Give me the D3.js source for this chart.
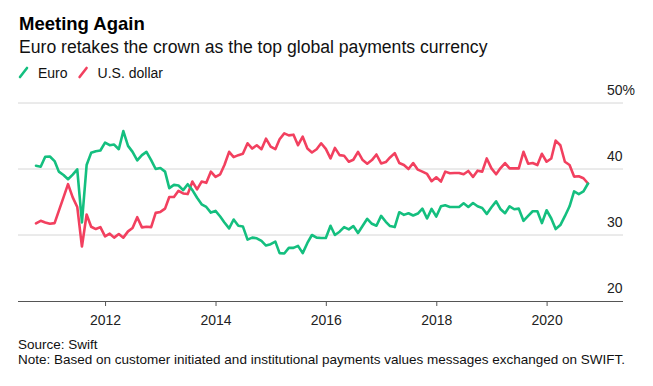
<!DOCTYPE html>
<html>
<head>
<meta charset="utf-8">
<script src="https://cdn.jsdelivr.net/npm/d3@7"></script>
<style>
  html, body { margin: 0; padding: 0; background: #fff; }
  svg { display: block; font-family: "Liberation Sans", Arial, Helvetica, sans-serif; }
</style>
</head>
<body>
<svg id="chart" width="653" height="386"></svg>
<script>
// ---- Data (monthly, Oct 2010 – Oct 2020), share of SWIFT payments, % ----
const startMonth = "2010-10";
const euroShare = [
  40.5, 40.35, 41.85, 41.9, 41.2, 39.6, 39.1, 38.45, 39.15, 39.95,
  31.9, 40.6, 42.45, 42.7, 42.8, 44.0, 43.6, 43.7, 43.0, 45.75,
  43.5, 42.6, 41.3, 42.1, 42.6, 41.35, 40.0, 40.15, 39.6, 37.1,
  37.6, 37.5, 36.8, 37.7, 36.8, 35.65, 34.65, 34.25, 33.4, 33.65,
  32.8, 31.9, 31.0, 32.35, 31.4, 31.3, 29.3, 29.6, 29.5, 29.1,
  28.4, 28.6, 29.0, 27.25, 27.2, 28.05, 28.05, 28.35, 27.25, 28.8,
  30.0, 29.6, 29.55, 29.55, 31.4, 30.0, 30.5, 31.2, 30.85, 31.35,
  30.3, 31.4, 32.45, 31.7, 31.4, 32.9, 32.0, 31.35, 31.2, 33.45,
  33.05, 33.3, 32.95, 33.25, 34.0, 32.5, 33.95, 32.8, 34.35, 34.5,
  34.25, 34.25, 34.25, 34.8, 34.25, 34.85, 34.35, 34.1, 33.2, 34.2,
  35.1, 33.95, 33.3, 34.35, 33.9, 34.0, 32.15, 32.9, 33.6, 33.6,
  31.8, 33.75, 32.5, 30.9, 31.5, 32.85, 34.35, 36.6, 36.2, 36.6,
  37.8
];
const usdShare = [
  31.75, 32.15, 31.9, 31.7, 31.8, 33.65, 35.7, 37.7, 35.7, 34.25,
  28.25, 33.1, 31.25, 30.9, 31.2, 29.8, 30.2, 29.6, 30.15, 29.6,
  30.55, 31.05, 32.7, 31.15, 31.25, 31.2, 33.35, 33.5, 34.0, 35.75,
  35.75, 36.7, 36.3, 36.2, 38.1, 36.9, 38.1, 37.9, 39.6, 38.8,
  39.2, 40.6, 42.6, 41.8, 42.1, 42.3, 43.9, 43.1, 43.6, 43.0,
  44.6, 43.4, 43.0, 44.5, 45.4, 45.1, 45.2, 43.6, 44.9, 43.1,
  42.5, 43.0, 43.9, 43.05, 41.6, 43.2, 42.1, 42.0, 41.1, 41.4,
  42.6, 41.35, 40.8, 41.35, 42.2, 40.85, 41.05, 41.75, 42.4, 40.9,
  40.6, 40.0, 40.9, 39.9, 39.6, 39.25, 38.15, 38.75, 38.1, 39.6,
  39.35, 39.4, 39.4, 39.2, 39.7, 38.8, 39.75, 39.6, 41.6, 40.1,
  39.2, 40.1, 40.9, 40.1, 40.1, 40.1, 42.6, 40.8, 40.9, 40.6,
  42.3, 41.1, 41.6, 44.3, 43.6, 41.1, 40.6, 38.85, 38.9, 38.6,
  37.8
];
const seriesNames = ["Euro", "U.S. dollar"];
const yTicks = [20, 30, 40, 50];
const yTickLabels = ["20", "30", "40", "50%"];
const xTickYears = [2012, 2014, 2016, 2018, 2020];

const title = "Meeting Again";
const subtitle = "Euro retakes the crown as the top global payments currency";
const source = "Source: Swift";
const note = "Note: Based on customer initiated and institutional payments values messages exchanged on SWIFT.";

// ---- Build ----
const parseMonth = d3.timeParse("%Y-%m");
const t0 = parseMonth(startMonth);
const dates = euroShare.map((_, i) => d3.timeMonth.offset(t0, i));
const colors = ["#14bf7f", "#f2405f"];
const series = [euroShare, usdShare];

const svg = d3.select("#chart");

const x = d3.scaleTime()
  .domain([dates[0], dates[dates.length - 1]])
  .range([36, 588]);
const y = d3.scaleLinear().domain([20, 50]).range([301, 103]);

const plotLeft = 18, plotRight = 623;

// title block
svg.append("text").attr("x", 19).attr("y", 30)
  .attr("font-size", 18.5).attr("font-weight", "bold").attr("fill", "#000")
  .text(title);
svg.append("text").attr("x", 19).attr("y", 53)
  .attr("font-size", 17.6).attr("fill", "#111")
  .text(subtitle);

// legend
const legend = svg.append("g");
let lx = 20;
seriesNames.forEach((name, i) => {
  legend.append("line")
    .attr("x1", lx).attr("y1", 77).attr("x2", lx + 7).attr("y2", 68)
    .attr("stroke", colors[i]).attr("stroke-width", 2.6).attr("stroke-linecap", "round");
  const t = legend.append("text").attr("x", lx + 18).attr("y", 77.5)
    .attr("font-size", 14).attr("fill", "#111").text(name);
  lx += 18 + t.node().getComputedTextLength() + 12;
});

// gridlines
const grid = svg.append("g");
yTicks.filter(v => v !== 20).forEach(v => {
  grid.append("line")
    .attr("x1", plotLeft).attr("x2", plotRight)
    .attr("y1", y(v)).attr("y2", y(v))
    .attr("stroke", "#d6d6d6").attr("stroke-width", 1);
});
yTicks.forEach((v, i) => {
  grid.append("text")
    .attr("x", 607).attr("y", y(v) - 8)
    .attr("font-size", 14).attr("fill", "#222")
    .text(yTickLabels[i]);
});

// x axis
const xAxis = d3.axisBottom(x)
  .tickValues(xTickYears.map(yr => new Date(yr, 0, 1)))
  .tickFormat(d3.timeFormat("%Y"))
  .tickSize(5).tickSizeOuter(0).tickPadding(9);
const gx = svg.append("g").attr("transform", `translate(0,${y(20)})`).call(xAxis);
gx.select(".domain").remove();
gx.append("line").attr("x1", plotLeft).attr("x2", plotRight)
  .attr("y1", 0.5).attr("y2", 0.5).attr("stroke", "#555").attr("stroke-width", 1.2);
gx.selectAll(".tick line").attr("stroke", "#555");
gx.selectAll(".tick text").attr("font-size", 14).attr("fill", "#222")
  .attr("font-family", "Liberation Sans, Arial, sans-serif");

// lines (dollar drawn first, euro on top as in reference)
const line = d3.line()
  .x((d, i) => x(dates[i]))
  .y(d => y(d))
  .curve(d3.curveLinear);
[1, 0].forEach(k => {
  svg.append("path")
    .datum(series[k])
    .attr("d", line)
    .attr("fill", "none")
    .attr("stroke", colors[k])
    .attr("stroke-width", 2.6)
    .attr("stroke-linejoin", "round")
    .attr("stroke-linecap", "round");
});

// footer
svg.append("text").attr("x", 18).attr("y", 349)
  .attr("font-size", 13.5).attr("fill", "#111").text(source);
svg.append("text").attr("x", 18).attr("y", 364)
  .attr("font-size", 13.5).attr("fill", "#111").text(note);
</script>
</body>
</html>
